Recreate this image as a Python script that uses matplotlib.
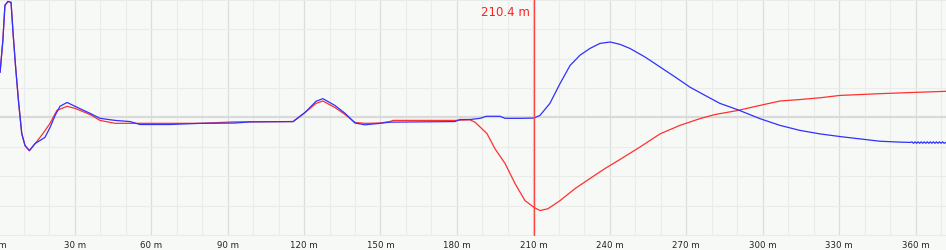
import matplotlib
matplotlib.use("Agg")
import matplotlib.pyplot as plt

# distance (m) and level for the two traces
dist_blue = [0.7, 1.8, 2.6, 3.8, 5.0, 5.8, 6.8, 7.9, 9.2, 10.5, 12.2, 14.4, 18.3, 20.3,
             22.3, 24.2, 27.0, 30.1, 36.0, 39.9, 45.8, 51.7, 55.6, 67.4, 79.2, 92.9,
             98.8, 115.7, 120.4, 124.7, 127.4, 132.1, 136.1, 140.0, 143.9, 149.8, 153.7,
             179.2, 181.2, 185.1, 189.1, 191.5, 196.9, 198.9, 204.8, 210.2, 212.6, 216.5,
             220.5, 224.4, 228.3, 232.2, 236.1, 240.1, 244.0, 247.9, 253.8, 259.7, 265.6,
             271.5, 277.4, 283.2, 290.3, 298.9, 306.8, 314.6, 322.5, 330.3, 338.2, 346.0,
             353.9, 358.0, 358.6, 359.2, 359.8, 360.4, 361.0, 361.6, 362.2, 362.8, 363.4,
             364.0, 364.6, 365.2, 365.8, 366.4, 367.0, 367.6, 368.2, 368.8, 369.4, 370.0,
             370.6, 371.2, 371.9]
level_blue = [1.54, 2.63, 3.82, 3.95, 3.92, 2.87, 1.71, 0.58, -0.55, -0.96, -1.13, -0.89,
              -0.68, -0.34, 0.07, 0.38, 0.51, 0.38, 0.14, -0.03, -0.10, -0.14, -0.24, -0.24,
              -0.20, -0.19, -0.15, -0.14, 0.17, 0.55, 0.64, 0.41, 0.14, -0.19, -0.25, -0.20,
              -0.16, -0.14, -0.07, -0.07, -0.03, 0.04, 0.04, -0.03, -0.03, -0.02, 0.07, 0.48,
              1.16, 1.77, 2.12, 2.35, 2.52, 2.57, 2.49, 2.35, 2.06, 1.72, 1.38, 1.03,
              0.75, 0.48, 0.26, -0.04, -0.27, -0.44, -0.56, -0.65, -0.73, -0.81,
              -0.84, -0.85, -0.83, -0.88, -0.83, -0.88, -0.83, -0.88, -0.83, -0.88, -0.83,
              -0.88, -0.83, -0.88, -0.83, -0.88, -0.83, -0.88, -0.83, -0.88, -0.83, -0.88,
              -0.83, -0.88, -0.85]

dist_red = [0.7, 1.8, 2.6, 3.8, 5.0, 5.8, 6.8, 7.9, 9.2, 10.5, 12.2, 14.4, 17.5, 20.3,
            23.0, 27.0, 30.1, 36.0, 39.9, 45.8, 51.7, 67.4, 79.2, 92.9, 98.8, 115.7,
            120.4, 124.7, 127.4, 132.1, 136.1, 140.0, 143.9, 149.8, 153.7, 154.9, 179.2,
            185.1, 187.1, 191.8, 194.9, 198.9, 202.8, 206.7, 210.2, 212.6, 215.7, 220.5,
            226.4, 232.2, 238.1, 244.0, 251.8, 259.7, 267.5, 275.4, 281.3, 290.3, 298.9,
            306.8, 314.6, 322.5, 330.3, 346.0, 361.7, 371.9]
level_red = [1.54, 2.63, 3.82, 3.95, 3.92, 2.87, 1.71, 0.58, -0.55, -0.96, -1.13, -0.90,
             -0.55, -0.20, 0.24, 0.38, 0.31, 0.10, -0.10, -0.20, -0.20, -0.20, -0.20, -0.15,
             -0.15, -0.14, 0.17, 0.48, 0.56, 0.34, 0.10, -0.17, -0.20, -0.19, -0.14, -0.10,
             -0.10, -0.08, -0.16, -0.55, -1.06, -1.57, -2.25, -2.83, -3.06, -3.17, -3.11,
             -2.83, -2.42, -2.08, -1.74, -1.43, -1.01, -0.56, -0.27, -0.04, 0.10, 0.24,
             0.41, 0.56, 0.61, 0.67, 0.75, 0.81, 0.86, 0.89]

marker_pos = 210.4
major_ticks = [0, 30, 60, 90, 120, 150, 180, 210, 240, 270, 300, 330, 360]
tick_labels = [f"{t} m" for t in major_ticks]

bg = "#f6f9f6"
fig = plt.figure(figsize=(9.46, 2.5), dpi=100, facecolor=bg)
# axes start a hair left of the figure so the "0 m" label gets cut like the original
ax = fig.add_axes([-1.7 / 946, 14.5 / 250, 1 + 1.7 / 946, 235.5 / 250], facecolor=bg)

ax.set_xlim(0, 371.95)
ax.set_ylim(-4.02, 4.0)

ax.set_xticks(major_ticks)
ax.set_xticklabels(tick_labels, fontsize=6.2, color="#222222", family="DejaVu Sans")
ax.set_xticks(range(0, 372, 10), minor=True)
ax.set_yticks(range(-4, 5))
ax.set_yticklabels([])
ax.tick_params(axis="both", which="both", length=0, pad=3.6)

ax.grid(True, which="minor", axis="x", color="#e9ece9", lw=0.8)
ax.grid(True, which="major", axis="x", color="#dcdedc", lw=0.9)
ax.grid(True, which="major", axis="y", color="#e9ece9", lw=0.8)
ax.axhline(0, color="#d9dad9", lw=1.6, zorder=1)
ax.set_axisbelow(True)
for s in ax.spines.values():
    s.set_visible(False)

ax.plot(dist_red, level_red, color="#ff3030", lw=0.9, zorder=3)
ax.plot(dist_blue, level_blue, color="#3030ff", lw=0.9, zorder=4)

ax.axvline(marker_pos, color="#ff4444", lw=1.0, zorder=5)
ax.annotate(f"{marker_pos} m", xy=(marker_pos, 1.0), xycoords=("data", "axes fraction"),
            xytext=(-3, -4), textcoords="offset points", ha="right", va="top",
            fontsize=8.5, color="#ff2020", family="DejaVu Sans")

fig.savefig("out.png", dpi=100, facecolor=bg)
